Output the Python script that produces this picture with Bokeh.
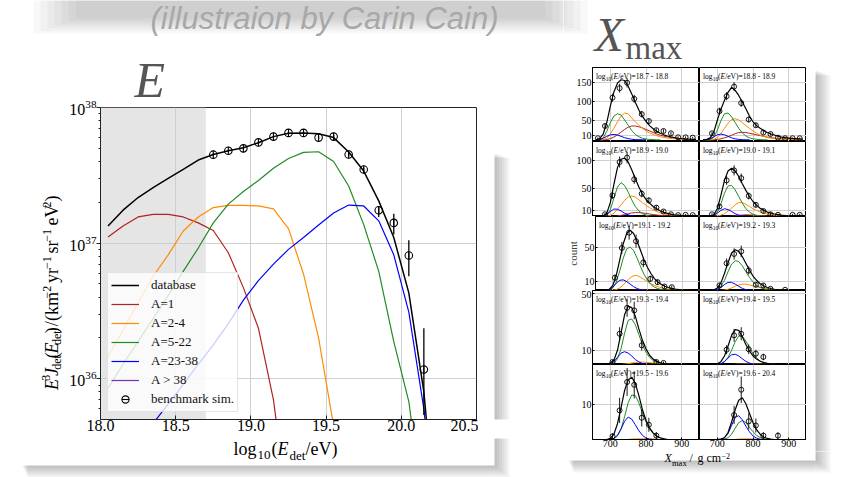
import math
from bokeh.plotting import figure
from bokeh.models import (Range1d, FixedTicker, PrintfTickFormatter, Label, Title,
                          BoxAnnotation, Legend, LegendItem)
from bokeh.layouts import row, column
from bokeh.embed import file_html
from bokeh.resources import INLINE

nan = float("nan")
SERIF = "Liberation Serif"
SANS = "Liberation Sans"

# ---------------- energy spectrum data ----------------
E_BINS = [18.05, 18.15, 18.25, 18.35, 18.45, 18.55, 18.65, 18.75, 18.85, 18.95, 19.05, 19.15,
          19.25, 19.35, 19.45, 19.55, 19.65, 19.75, 19.85, 19.95, 20.05, 20.15, 20.25]
J_DATABASE = [1.34e37, 1.75e37, 2.17e37, 2.57e37, 3.0e37, 3.5e37, 4.1e37, 4.5e37, 4.8e37, 5.05e37, 5.5e37, 6.1e37,
              6.45e37, 6.5e37, 6.4e37, 6.0e37, 4.7e37, 3.4e37, 2.05e37, 1.1e37, 4.3e36, 8.0e35, 5.0e34]
J_A1 = [1.11e37, 1.34e37, 1.56e37, 1.63e37, 1.63e37, 1.56e37, 1.41e37, 1.24e37, 8.5e36, 4.7e36, 2.36e36, 7.0e35,
        1.0e35, nan, nan, nan, nan, nan, nan, nan, nan, nan, nan]
J_A2_4 = [1.45e36, 2.29e36, 3.65e36, 5.7e36, 8.2e36, 1.23e37, 1.56e37, 1.83e37, 1.90e37, 1.90e37, 1.88e37, 1.79e37,
          1.28e37, 5.9e36, 2.0e36, 4.5e35, 5.0e34, nan, nan, nan, nan, nan, nan]
J_A5_22 = [8.5e35, 1.28e36, 1.89e36, 2.78e36, 4.1e36, 6.2e36, 9.2e36, 1.41e37, 1.94e37, 2.4e37, 2.9e37, 3.57e37,
           4.21e37, 4.67e37, 4.72e37, 4.0e37, 2.64e37, 1.37e37, 6.2e36, 1.88e36, 6.8e35, 1.0e35, 1.0e34]
J_A23_38 = [1.7e35, 2.4e35, 3.4e35, 4.7e35, 6.5e35, 9.1e35, 1.28e36, 1.78e36, 2.55e36, 3.8e36, 5.3e36, 7.0e36,
            9.0e36, 1.1e37, 1.36e37, 1.67e37, 1.91e37, 1.88e37, 1.46e37, 8.2e36, 3.1e36, 6.0e35, 5.0e34]
J_A39 = [2e33, 3e33, 4e33, 6e33, 8e33, 1.1e34, 1.5e34, 2e34, 2.6e34, 3.3e34, 4.2e34, 5.2e34,
         6.3e34, 7.5e34, 8.6e34, 9.5e34, 9.8e34, 9.0e34, 7e34, 4e34, 1.5e34, 3e33, 3e32]

BENCH_E = [18.75, 18.85, 18.95, 19.05, 19.15, 19.25, 19.35, 19.45, 19.55, 19.65, 19.75, 19.85, 19.95, 20.05, 20.15]
BENCH_J = [4.49e37, 4.8e37, 5.0e37, 5.53e37, 6.1e37, 6.5e37, 6.5e37, 6.0e37, 6.1e37, 4.5e37, 3.49e37, 1.75e37,
           1.41e37, 8.1e36, 1.17e36]
BENCH_LO = [4.4e37, 4.7e37, 4.9e37, 5.4e37, 6.0e37, 6.35e37, 6.35e37, 5.85e37, 5.9e37, 4.35e37, 3.35e37, 1.56e37,
            1.16e37, 5.7e36, 5.4e35]
BENCH_HI = [4.6e37, 4.9e37, 5.1e37, 5.65e37, 6.2e37, 6.65e37, 6.65e37, 6.15e37, 6.3e37, 4.65e37, 3.63e37, 1.88e37,
            1.65e37, 1.05e37, 2.36e36]
SHADE = (18.0, 18.7)
E_TICKS = [18.0, 18.5, 19.0, 19.5, 20.0, 20.5]

# ---------------- Xmax distributions ----------------
XM_GRID = [660, 670, 680, 690, 700, 710, 720, 730, 740, 750, 760, 770, 780, 790, 800, 810, 820,
           830, 840, 850, 860, 870, 880, 890, 900, 910, 920, 930, 940]
XM_BINS = ["18.7 - 18.8", "18.8 - 18.9", "18.9 - 19.0", "19.0 - 19.1", "19.1 - 19.2",
           "19.2 - 19.3", "19.3 - 19.4", "19.4 - 19.5", "19.5 - 19.6", "19.6 - 20.4"]
XM_TICKS = [700, 800, 900]
ROW_YMIN = [-4.5, 0, 0, 0, 0]
ROW_YMAX = [189, 135, 87, 52, 21.4]
ROW_TICKS = [[10, 50, 100, 150], [10, 50, 100], [10, 50], [10, 50], [10]]

XM_TOTAL = [
    [0.5, 3, 15, 45, 88, 125, 148, 157, 155, 140, 120, 98, 78, 61, 48, 37, 29, 22, 17, 13, 10, 7.5, 5.5, 4, 3, 2.2, 1.6, 1.2, 0.8],
    [0, 0.5, 5, 20, 51, 80, 103, 124, 137, 129, 116, 99, 81, 62, 47, 37, 30, 24, 19, 15, 12.5, 9.5, 7, 5.5, 4.5, 3.5, 3, 2.5, 2],
    [0, 0, 1, 6, 25, 58, 88, 103, 105, 98, 84, 68, 53, 40, 31, 24, 18, 14, 10, 7.5, 5.5, 4, 3, 2.3, 1.7, 1.3, 1, 0.7, 0.5],
    [0, 0, 0.5, 3, 14, 38, 65, 82, 87, 82, 72, 59, 47, 36, 27, 20, 15, 11, 8, 6, 4.5, 3.5, 2.5, 1.8, 1.3, 0.9, 0.6, 0.4, 0.2],
    [0, 0, 0, 1.5, 6, 18, 36, 55, 67, 71, 67, 58, 47, 36, 27, 20, 14, 10, 7, 5, 3.5, 2.5, 1.7, 1.2, 0.8, 0.5, 0.3, 0.2, 0],
    [0, 0, 0, 0.5, 3, 9, 20, 33, 44, 48, 46, 40, 32, 24, 17, 12, 8, 5.5, 3.5, 2.3, 1.5, 1, 0.7, 0.4, 0.2, 0, 0, 0, 0],
    [0, 0, 0, 0.3, 1, 3, 10, 22, 35, 41, 40, 34, 25, 17, 11, 6.5, 3.8, 2.2, 1.2, 0.7, 0.4, 0.2, 0, 0, 0, 0, 0, 0, 0],
    [0, 0, 0, 0, 0.5, 2, 6, 13, 20.5, 24.5, 24, 19.5, 14, 9.5, 6, 3.8, 2.3, 1.4, 0.8, 0.5, 0.3, 0, 0, 0, 0, 0, 0, 0, 0],
    [0, 0, 0, 0, 0.3, 1.5, 4.5, 9, 14, 17, 17.8, 16, 12.5, 8.5, 5.5, 3.3, 1.9, 1, 0.5, 0.2, 0, 0, 0, 0, 0, 0, 0, 0, 0],
    [0, 0, 0, 0, 0, 0.1, 0.5, 2, 5, 8.5, 11.2, 11.9, 10.2, 7.5, 4.8, 2.8, 1.5, 0.7, 0.3, 0.1, 0, 0, 0, 0, 0, 0, 0, 0, 0],
]
XM_A1 = [
    [0, 0, 0, 0.5, 3, 7, 13, 20, 27, 33, 36, 36, 34, 31, 27, 23, 19, 15, 12, 9.5, 7.5, 6, 4.5, 3.5, 2.5, 1.8, 1.2, 0.9, 0.6],
    [0, 0, 0, 0, 1, 2.5, 5, 8, 12, 16, 19, 19.5, 19, 17, 15, 13, 11, 9, 7, 5.5, 4.5, 3.5, 3, 2, 1.5, 1, 0.7, 0.4, 0.2],
    [0, 0, 0, 0, 0, 0, 1, 2, 3.5, 5, 6.5, 7, 7, 6.5, 5.5, 4.5, 3.5, 2.7, 2, 1.5, 1, 0.7, 0.5, 0.3, 0.2, 0, 0, 0, 0],
    [0, 0, 0, 0, 0, 0, 0, 0, 0.5, 1, 2, 2.6, 3, 2.8, 2.5, 2, 1.5, 1.1, 0.8, 0.6, 0.4, 0.2, 0.1, 0, 0, 0, 0, 0, 0],
    [0, 0, 0, 0, 0, 0, 0, 0, 0, 0.2, 0.3, 0.4, 0.5, 0.5, 0.5, 0.4, 0.35, 0.3, 0.25, 0.2, 0.1, 0, 0, 0, 0, 0, 0, 0, 0],
    [],
    [],
    [],
    [],
    [],
]
XM_A2_4 = [
    [0, 0, 0.5, 4, 15, 30, 47, 62, 70, 68, 57, 47, 38, 30, 23, 18, 14, 11, 8, 6, 4.5, 3.5, 2.5, 2, 1.5, 1.1, 0.8, 0.6, 0.4],
    [0, 0, 0, 1, 6, 16, 30, 43, 53, 55, 52, 45, 37, 30, 23, 17, 12, 9, 6, 4.5, 3, 2.2, 1.5, 1, 0.7, 0.4, 0.2, 0.1, 0],
    [0, 0, 0, 0.5, 2, 6, 13, 21, 29, 35, 37, 35, 30, 25, 20, 16, 12, 9, 6.5, 5, 3.5, 2.5, 1.8, 1.3, 0.9, 0.6, 0.4, 0.2, 0],
    [0, 0, 0, 0, 1, 2.5, 5, 9.5, 15, 21, 25, 25, 22, 18, 14, 11, 8, 6, 4.5, 3.2, 2.2, 1.5, 1, 0.6, 0.4, 0.2, 0.1, 0, 0],
    [0, 0, 0, 0, 0.3, 1, 3, 6.5, 11, 15, 17.5, 17.5, 15.5, 13, 10.5, 8, 6, 4.5, 3.2, 2.3, 1.6, 1.1, 0.8, 0.5, 0.3, 0.2, 0.1, 0, 0],
    [0, 0, 0, 0, 0, 0, 0.5, 1.5, 3, 5, 6.5, 7.5, 7.5, 6.5, 5.5, 4.5, 3.5, 2.7, 2, 1.4, 1, 0.7, 0.4, 0.2, 0, 0, 0, 0, 0],
    [0, 0, 0, 0, 0, 0, 0, 0, 0.3, 0.6, 1, 1.4, 1.7, 1.7, 1.5, 1.3, 1, 0.7, 0.5, 0.3, 0.2, 0, 0, 0, 0, 0, 0, 0, 0],
    [0, 0, 0, 0, 0, 0, 0, 0, 0, 0.1, 0.2, 0.25, 0.3, 0.3, 0.3, 0.25, 0.2, 0.1, 0, 0, 0, 0, 0, 0, 0, 0, 0, 0, 0],
    [0, 0, 0, 0, 0, 0, 0, 0, 0, 0, 0.15, 0.18, 0.2, 0.2, 0.2, 0.18, 0.15, 0.1, 0, 0, 0, 0, 0, 0, 0, 0, 0, 0, 0],
    [0, 0, 0, 0, 0, 0, 0, 0, 0, 0, 0.15, 0.18, 0.2, 0.18, 0.15, 0.1, 0, 0, 0, 0, 0, 0, 0, 0, 0, 0, 0, 0, 0],
]
XM_A5_22 = [
    [0, 0.5, 5, 22, 45, 62, 68, 65, 52, 38, 24, 14, 8, 4, 2, 1, 0.5, 0, 0],
    [0, 0, 1, 6, 25, 50, 68, 70, 60, 45, 30, 18, 10, 5, 2.5, 1.2, 0.5, 0, 0],
    [0, 0, 0, 2, 12, 33, 53, 61, 56, 44, 30, 18, 10, 5, 2.5, 1.2, 0.5, 0, 0],
    [0, 0, 0.5, 2, 8, 23, 42, 55, 56, 48, 36, 24, 14, 8, 4, 2, 1, 0.5, 0, 0],
    [0, 0, 0, 0.5, 3, 10, 23, 38, 49, 51, 47, 38, 28, 19, 12, 7, 4, 2.2, 1.2, 0.6, 0.3, 0, 0],
    [0, 0, 0, 0, 1.5, 5, 12, 22, 31, 35, 34, 29, 22, 15.5, 10, 6, 3.5, 2, 1, 0.5, 0.3, 0, 0],
    [0, 0, 0, 0, 0.3, 1, 4, 11, 22, 31, 32, 28, 21, 14, 8.5, 5, 2.8, 1.5, 0.8, 0.4, 0.2, 0, 0],
    [0, 0, 0, 0, 0, 0.5, 2, 5, 10, 16, 20, 20, 16.5, 12, 7.5, 4.5, 2.5, 1.4, 0.7, 0.4, 0.2, 0, 0],
    [0, 0, 0, 0, 0, 0.3, 1, 3, 6.5, 10.5, 12.7, 12.5, 10.5, 7.5, 5, 3, 1.7, 0.9, 0.4, 0.2, 0, 0],
    [0, 0, 0, 0, 0, 0, 0.1, 0.5, 1.5, 3.2, 4.8, 5.4, 4.8, 3.5, 2.2, 1.2, 0.6, 0.2, 0, 0],
]
XM_A23_38 = [
    [0, 0.5, 4, 9, 13, 14, 12.5, 9, 5.5, 3, 1.5, 0.5, 0.2, 0, 0],
    [0, 0.5, 3, 8, 13, 15, 13, 9, 5, 2.5, 1, 0.3, 0, 0],
    [0, 0, 1, 4, 9, 13.5, 13, 10, 6, 3, 1.2, 0.4, 0, 0],
    [0, 0, 0.5, 2, 6, 11, 14, 12.5, 9, 5, 2.5, 1, 0.3, 0, 0],
    [0, 0, 0.3, 1, 4, 8.5, 12, 12.5, 10.5, 7.5, 4.5, 2.3, 1, 0.4, 0, 0],
    [0, 0, 0, 0.3, 1, 3.5, 7, 9.5, 9.5, 7.5, 5, 2.5, 1, 0.4, 0, 0],
    [0, 0, 0, 0.2, 0.5, 2, 5, 8, 9, 8, 6, 3.5, 1.8, 0.7, 0.2, 0, 0],
    [0, 0, 0, 0, 0.2, 0.5, 2, 4.5, 6.8, 7.2, 6, 4, 2.2, 1, 0.4, 0, 0],
    [0, 0, 0, 0, 0.1, 0.3, 1.2, 3, 5.2, 6.4, 5.8, 4.2, 2.5, 1.2, 0.4, 0.1, 0, 0],
    [0, 0, 0, 0, 0, 0.1, 0.5, 1.7, 4, 6.3, 6.8, 5.6, 3.8, 2.2, 1, 0.4, 0.1, 0, 0],
]
XM_DATA_X = [
    [665, 685, 706, 726, 747, 767, 788, 808, 829, 849, 870, 890, 911, 931],
    [685, 706, 726, 747, 767, 788, 808, 829, 849, 870, 890, 911, 931],
    [685, 706, 726, 747, 767, 788, 808, 829, 849, 870, 890, 911, 931],
    [685, 706, 726, 747, 767, 788, 808, 829, 849, 870, 911, 931],
    [706, 726, 747, 767, 788, 808, 829, 849, 870],
    [706, 726, 747, 767, 788, 808, 829, 849, 890],
    [706, 726, 747, 767, 788, 829, 849],
    [726, 747, 767, 788, 808, 829],
    [706, 726, 747, 767, 788, 808, 829],
    [747, 767, 788, 808, 829, 870],
]
XM_DATA_N = [
    [4, 36, 110, 135, 149, 107, 67, 49, 25, 23, 17, 6.5, 6.5, 5.6],
    [17, 75, 114, 139, 96, 53, 38, 19, 15, 5.6, 4, 4, 4],
    [4, 38, 98, 106, 67, 41, 29, 16, 9, 4, 2.5, 3, 2.5],
    [4, 18, 65, 83, 69, 37, 21, 10, 4, 3, 3, 3],
    [15, 50, 68, 58, 33, 13.7, 9.8, 4.7, 3.9],
    [6, 32, 43, 46, 23.5, 6.7, 5.9, 2, 0.8],
    [1.8, 21.6, 39.8, 38, 13.5, 1.8, 1.1],
    [10.4, 20.5, 21.6, 10.7, 7.6, 5.3],
    [0.9, 8.3, 16.4, 15.6, 6.2, 4.2, 1.1],
    [7, 14.2, 5.2, 4, 1.1, 1.1],
]
XM_DATA_ERR = [
    [2, 6, 10.5, 11.6, 12.2, 10.3, 8.2, 7, 5, 4.8, 4.1, 2.5, 2.5, 2.4],
    [4.1, 8.7, 10.7, 11.8, 9.8, 7.3, 6.2, 4.4, 3.9, 2.4, 2, 2, 2],
    [2, 6.2, 9.9, 10.3, 8.2, 6.4, 5.4, 4, 3, 2, 1.6, 1.7, 1.6],
    [2, 4.2, 8, 9.1, 8.3, 6.1, 4.6, 3.2, 2, 1.7, 1.7, 1.7],
    [3.9, 7.1, 8.2, 7.6, 5.7, 3.7, 3.1, 2.2, 2],
    [2.4, 5.7, 6.6, 6.8, 4.8, 2.6, 2.4, 1.4, 0.9],
    [1.3, 4.6, 6.3, 6.2, 3.7, 1.3, 1],
    [3.2, 4.5, 4.6, 3.3, 2.8, 2.3],
    [0.9, 3.6, 4, 3.9, 2.5, 2, 1],
    [2.6, 3.8, 2.3, 2, 1, 1],
]

C_A1, C_A2_4, C_A5_22, C_A23_38, C_A39 = "#b22222", "#ff8c00", "#228b22", "#0000ff", "#7b2cbf"
GRID_C = "#cfcfcf"
PAGE_W, PAGE_H = 846, 477
MID_SHIFT = 0.34   # the label anchor renders at the em-box middle


def frame_map(L, R, T, B, x0, x1, y0, y1, logy=False):
    def fx(px):
        return x0 + (px - L) / (R - L) * (x1 - x0)

    def fy(py):
        f = (B - py) / (B - T)
        if logy:
            return 10 ** (math.log10(y0) + f * (math.log10(y1) - math.log10(y0)))
        return y0 + f * (y1 - y0)
    return fx, fy


def add_text(fig, fm, px, py, text, size, style="normal", color="black", rotated=False, font=SERIF):
    """px, py: page position of the start of the text on its baseline."""
    fx, fy = fm
    if rotated:
        ax_, ay_ = px - MID_SHIFT * size, py
    else:
        ax_, ay_ = px, py - MID_SHIFT * size
    fig.add_layout(Label(x=fx(ax_), y=fy(ay_), text=text, text_font=font,
                         text_font_size=f"{size}px", text_font_style=style, text_color=color,
                         angle=math.pi / 2 if rotated else 0.0, text_align="left",
                         text_baseline="middle"))


def add_box(fig, fm, l, r, t, b, alpha, color="black"):
    fx, fy = fm
    fig.add_layout(BoxAnnotation(left=fx(l), right=fx(r), top=fy(t), bottom=fy(b),
                                 fill_color=color, fill_alpha=alpha, line_color=None))


def blank_fig(page_l, page_t, w, h):
    f = figure(width=w, height=h, x_range=Range1d(0, w), y_range=Range1d(0, h),
               x_axis_location=None, y_axis_location=None, output_backend="svg",
               toolbar_location=None, title=None, min_border_left=0, min_border_right=0,
               min_border_top=0, min_border_bottom=0, outline_line_color=None,
               background_fill_color="white", border_fill_color="white")
    f.grid.visible = False
    return f, frame_map(page_l, page_l + w, page_t, page_t + h, 0, w, 0, h)


def card_shadow(fig, fm, l, t, r, b):
    for i in range(6):
        add_box(fig, fm, r, r + 2.5 * (i + 1), t + i, b + 2 * (i + 1), 0.045)
        add_box(fig, fm, l + i, r, b, b + 2 * (i + 1), 0.045)


def caption_band(fig, fm):
    for i in range(7):
        add_box(fig, fm, 75 - 7 * i, 545 + 7 * i, -5, 18 + 2.5 * i, 0.028)


LEFT_CARD = (22, 96, 494, 465)
RIGHT_CARD = (568, 70, 815, 460)

# ======================= left block =======================
TOP_H = 36
FL, FR, FT, FB = 100, 476, 107, 419
MAIN_BOTTOM = 438
MID_H = MAIN_BOTTOM - TOP_H
BOT_H = PAGE_H - MAIN_BOTTOM
YL_W = 64
MAIN_W = 478 - YL_W
RIGHT_W = 563 - 478
Y_LO, Y_HI = 10 ** 35.7, 1e38

p = figure(width=MAIN_W, height=MID_H, x_range=Range1d(18.0, 20.5), y_range=Range1d(Y_LO, Y_HI),
           y_axis_type="log", output_backend="svg", toolbar_location=None, title=None,
           min_border_left=FL - YL_W, min_border_right=478 - FR, min_border_top=FT - TOP_H,
           min_border_bottom=MAIN_BOTTOM - FB,
           background_fill_color="white", border_fill_color="white",
           outline_line_color="#222222", outline_line_width=1)

p.xaxis.ticker = FixedTicker(ticks=E_TICKS)
p.xaxis.formatter = PrintfTickFormatter(format="%.1f")
for ax in (p.xaxis, p.yaxis):
    ax.major_label_text_font = SERIF
    ax.major_label_text_font_size = "16px"
    ax.major_label_text_color = "black"
    ax.axis_line_color = "#222222"
    ax.major_tick_line_color = "#222222"
    ax.minor_tick_line_color = "#222222"
p.xaxis.major_tick_out = 0
p.xaxis.major_tick_in = 4
p.xaxis.minor_tick_line_color = None
p.xaxis.major_label_standoff = 0
p.yaxis.major_tick_out = 4
p.yaxis.major_tick_in = 0
p.yaxis.minor_tick_out = 2
p.yaxis.minor_tick_in = 0
p.yaxis.major_label_standoff = 0
p.grid.grid_line_color = GRID_C
p.grid.grid_line_width = 1

# panel letter as a title above the frame
p.add_layout(Title(text="E", align="left", offset=34, vertical_align="bottom", standoff=0,
                   text_font=SERIF, text_font_size="50px", text_font_style="italic",
                   text_color="#555555"), "above")

p.quad(left=[SHADE[0]], right=[SHADE[1]], bottom=[Y_LO], top=[Y_HI],
       fill_color="#e5e5e5", line_color=None, level="image")

r_a1 = p.line(E_BINS, J_A1, line_color=C_A1, line_width=1.2)
r_a2 = p.line(E_BINS, J_A2_4, line_color=C_A2_4, line_width=1.2)
r_a5 = p.line(E_BINS, J_A5_22, line_color=C_A5_22, line_width=1.2)
r_a23 = p.line(E_BINS, J_A23_38, line_color=C_A23_38, line_width=1.2)
r_a39 = p.line(E_BINS, J_A39, line_color=C_A39, line_width=1.2)
r_db = p.line(E_BINS, J_DATABASE, line_color="black", line_width=1.5)
p.segment(BENCH_E, BENCH_LO, BENCH_E, BENCH_HI, line_color="black", line_width=1.3)
r_bar = p.scatter(BENCH_E, BENCH_J, marker="dash", angle=math.pi / 2, size=8,
                  line_color="black", line_width=1.1)
r_bench = p.scatter(BENCH_E, BENCH_J, marker="circle", size=7.5, fill_color=None,
                    line_color="black", line_width=1.1)

legend = Legend(items=[
    LegendItem(label="database", renderers=[r_db]),
    LegendItem(label="A=1", renderers=[r_a1]),
    LegendItem(label="A=2-4", renderers=[r_a2]),
    LegendItem(label="A=5-22", renderers=[r_a5]),
    LegendItem(label="A=23-38", renderers=[r_a23]),
    LegendItem(label="A > 38", renderers=[r_a39]),
    LegendItem(label="benchmark sim.", renderers=[r_bench, r_bar]),
], location=(7, 7), margin=0, padding=3, spacing=1, label_height=18, glyph_height=18,
    glyph_width=28, label_standoff=12, label_text_font=SERIF, label_text_font_size="13px",
    label_text_color="#111111", background_fill_color="white", background_fill_alpha=0.8,
    border_line_color="#cccccc", border_line_width=1)
p.add_layout(legend)

# top strip: faded caption
f_top, fm_top = blank_fig(0, 0, 563, TOP_H)
caption_band(f_top, fm_top)
add_text(f_top, fm_top, 150, 28.5, "(illustraion by Carin Cain)", 31, "italic", color="#a8a8a8", font=SANS)

# y label strip
f_yl, fm_yl = blank_fig(0, TOP_H, YL_W, MID_H)
YB = 58
for py, txt, size, style, dx in [(400, "E", 18, "italic", 0), (388, "3", 12, "normal", -8),
                                 (382, "J", 18, "italic", 0), (374, "det", 12, "normal", 3),
                                 (359, "(", 18, "normal", 0), (353, "E", 18, "italic", 0),
                                 (342, "det", 12, "normal", 3), (327, ")", 18, "normal", 0),
                                 (318, "/", 18, "normal", 0), (311, "(km", 18, "normal", 0),
                                 (282, "\u22122", 12, "normal", -7), (262, "yr", 18, "normal", 0),
                                 (244, "\u22121", 12, "normal", -7), (224, "sr", 18, "normal", 0),
                                 (209, "\u22121", 12, "normal", -7), (188, "eV", 18, "normal", 0),
                                 (165, "2", 12, "normal", -7), (157, ")", 18, "normal", 0)]:
    add_text(f_yl, fm_yl, YB + dx, py, txt, size, style, rotated=True)

# right strip of left block (card shadow)
f_rs, fm_rs = blank_fig(478, TOP_H, RIGHT_W, MID_H)
card_shadow(f_rs, fm_rs, *LEFT_CARD)

# x label strip
f_xl, fm_xl = blank_fig(0, MAIN_BOTTOM, 563, BOT_H)
XL_BASE = 455
for px, txt, size, style, dy in [(233, "log", 18, "normal", 0), (257, "10", 13, "normal", 4),
                                 (271, "(", 18, "normal", 0), (277, "E", 18, "italic", 0),
                                 (289, "det", 13, "normal", 4), (305, "/eV)", 18, "normal", 0)]:
    add_text(f_xl, fm_xl, px, XL_BASE + dy, txt, size, style)
card_shadow(f_xl, fm_xl, *LEFT_CARD)

left_block = column(f_top, row(f_yl, p, f_rs), f_xl)

# ======================= Xmax block =======================
ROW_T = [67, 141, 216, 290, 364]
ROW_B = [141, 216, 290, 364, 439]
XM_BOTTOM = 451
COL_L = [592, 699]
COL_R = [699, 806]
CAN_L = [563, 699]
CAN_R = [699, 806]
XM_LO, XM_HI = 650, 950

figs = [[None, None] for _ in range(5)]
for k in range(10):
    r, c = divmod(k, 2)
    ctop = ROW_T[r]
    cbot = ROW_B[r] if r < 4 else XM_BOTTOM
    f = figure(width=CAN_R[c] - CAN_L[c], height=cbot - ctop,
               x_range=Range1d(XM_LO, XM_HI), y_range=Range1d(ROW_YMIN[r], ROW_YMAX[r]),
               x_axis_location="below" if r == 4 else None,
               y_axis_location="left" if c == 0 else None,
               output_backend="svg", toolbar_location=None, title=None,
               min_border_left=COL_L[c] - CAN_L[c], min_border_right=CAN_R[c] - COL_R[c],
               min_border_top=0, min_border_bottom=cbot - ROW_B[r],
               background_fill_color="white", border_fill_color="white",
               outline_line_color="black", outline_line_width=1)
    fm = frame_map(COL_L[c], COL_R[c], ROW_T[r], ROW_B[r], XM_LO, XM_HI, ROW_YMIN[r], ROW_YMAX[r])
    figs[r][c] = f
    f.xgrid.ticker = FixedTicker(ticks=XM_TICKS)
    f.ygrid.ticker = FixedTicker(ticks=ROW_TICKS[r])
    f.grid.grid_line_color = GRID_C
    f.grid.grid_line_width = 1
    for ax in list(f.xaxis) + list(f.yaxis):
        ax.major_label_text_font = SERIF
        ax.major_label_text_font_size = "10px"
        ax.major_label_text_color = "black"
        ax.axis_line_color = "black"
        ax.major_tick_line_color = "black"
        ax.minor_tick_line_color = None
        ax.major_tick_in = 2
        ax.major_tick_out = 0
        ax.major_label_standoff = 1
    f.xaxis.major_label_standoff = 0
    f.xaxis.ticker = FixedTicker(ticks=XM_TICKS)
    f.yaxis.ticker = FixedTicker(ticks=ROW_TICKS[r])

    for comp, col in ((XM_A1, C_A1), (XM_A2_4, C_A2_4), (XM_A5_22, C_A5_22), (XM_A23_38, C_A23_38)):
        ys = comp[k]
        if ys:
            f.line(XM_GRID[:len(ys)], ys, line_color=col, line_width=1.0)
    f.line(XM_GRID, XM_TOTAL[k], line_color="black", line_width=1.2)
    lo = [n - e for n, e in zip(XM_DATA_N[k], XM_DATA_ERR[k])]
    hi = [n + e for n, e in zip(XM_DATA_N[k], XM_DATA_ERR[k])]
    f.segment(XM_DATA_X[k], lo, XM_DATA_X[k], hi, line_color="black", line_width=0.9)
    f.scatter(XM_DATA_X[k], XM_DATA_N[k], marker="circle", size=5, fill_color=None,
              line_color="black", line_width=0.9)

    # bin label: log10(E/eV)=a - b
    x0 = COL_L[c] + 3.5
    yb = ROW_T[r] + 11.3
    add_text(f, fm, x0, yb, "log", 7.5)
    add_text(f, fm, x0 + 9.7, yb + 1.8, "10", 5.5)
    add_text(f, fm, x0 + 15.1, yb, "(", 7.5)
    add_text(f, fm, x0 + 17.6, yb, "E", 7.5, "italic")
    add_text(f, fm, x0 + 22.2, yb, "/eV)=" + XM_BINS[k], 7.5)

# "count" as axis label of the middle row
ax_mid = figs[2][0].yaxis[0]
ax_mid.axis_label = "count"
ax_mid.axis_label_text_font = SERIF
ax_mid.axis_label_text_font_size = "11px"
ax_mid.axis_label_text_font_style = "normal"
ax_mid.axis_label_standoff = 3

panels = column(*[row(figs[r][0], figs[r][1]) for r in range(5)])

f_xt, fm_xt = blank_fig(563, 0, 846 - 563, ROW_T[0])
caption_band(f_xt, fm_xt)
add_text(f_xt, fm_xt, 594, 50, "X", 48, "italic", color="#555555")
add_text(f_xt, fm_xt, 625, 58.5, "max", 33, color="#555555")

f_xr, fm_xr = blank_fig(806, ROW_T[0], 846 - 806, XM_BOTTOM - ROW_T[0])
card_shadow(f_xr, fm_xr, *RIGHT_CARD)

f_xb, fm_xb = blank_fig(563, XM_BOTTOM, 846 - 563, PAGE_H - XM_BOTTOM)
card_shadow(f_xb, fm_xb, *RIGHT_CARD)
XB = 462
add_text(f_xb, fm_xb, 664, XB, "X", 12, "italic")
add_text(f_xb, fm_xb, 671.5, XB + 3, "max", 8.5)
add_text(f_xb, fm_xb, 689, XB, "/", 12)
add_text(f_xb, fm_xb, 697, XB, "g cm", 12)
add_text(f_xb, fm_xb, 721, XB - 3.5, "\u22122", 8)

right_block = column(f_xt, row(panels, f_xr), f_xb)
layout = row(left_block, right_block)

with open("out.html", "w") as fh:
    fh.write(file_html(layout, INLINE, title="E and Xmax"))
